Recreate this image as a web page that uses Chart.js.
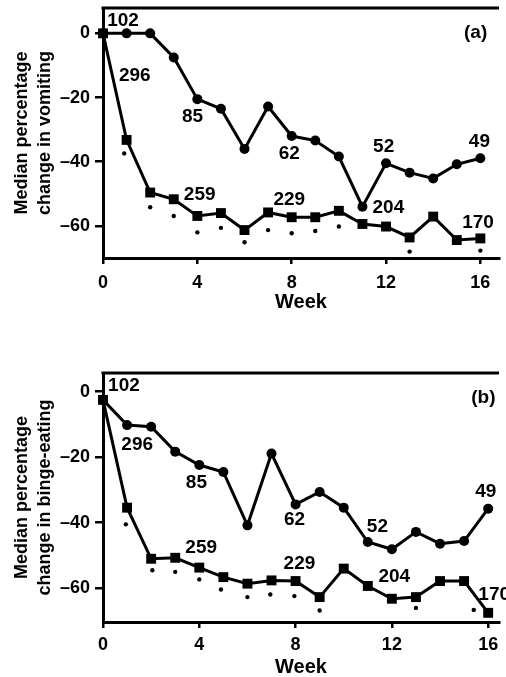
<!DOCTYPE html>
<html>
<head>
<meta charset="utf-8">
<script src="https://cdn.jsdelivr.net/npm/chart.js@4.4.1/dist/chart.umd.min.js"></script>
<style>
  html, body { margin: 0; padding: 0; background: #fff; overflow: hidden; }
  canvas { position: absolute; left: 0; }
  #panelA { top: 0; }
  #panelB { top: 320px; }
</style>
</head>
<body>
<canvas id="panelA" width="506" height="320"></canvas>
<canvas id="panelB" width="506" height="357"></canvas>
<script>
const weeks = [0, 1, 2, 3, 4, 5, 6, 7, 8, 9, 10, 11, 12, 13, 14, 15, 16];
const weekTicks = [0, 4, 8, 12, 16];
const yTicks = [-60, -40, -20, 0];

// (a) vomiting
const vomitRound = [0, 0, 0, -7.5, -20.5, -23.5, -36, -22.8, -32, -33.4, -38.4, -54, -40.5, -43.4, -45.2, -40.8, -38.9];
const vomitSquare = [0, -33.2, -49.6, -51.7, -56.9, -56, -61.3, -55.8, -57.3, -57.3, -55.3, -59.4, -60.2, -63.6, -57.1, -64.4, -63.9];
const vomitDotWeeks = [0.9, 2, 3, 4, 5, 6, 7, 8, 9, 10, 13, 16];
const vomitDotValues = [-37.4, -54.2, -56.9, -62, -60.6, -65.1, -61.3, -62.3, -61.6, -60.2, -68, -67.7];
const vomitNotes = ['102', '296', '85', '62', '52', '49', '259', '229', '204', '170', '(a)'];
const vomitNoteX = [0.85, 1.35, 3.8, 7.9, 11.9, 15.96, 4.1, 7.9, 12.1, 15.9, 15.8];
const vomitNoteY = [3.8, -13.3, -26.1, -37.6, -35.4, -33.9, -50.4, -51.9, -54.4, -59.1, 0.1];

// (b) binge-eating
const bingeRound = [-2.5, -10.2, -10.7, -18.3, -22.4, -24.5, -40.8, -18.9, -34.4, -30.6, -35.4, -45.9, -48.1, -42.8, -46.4, -45.6, -35.7];
const bingeSquare = [-2.5, -35.4, -51, -50.7, -53.7, -56.6, -58.6, -57.6, -57.8, -62.7, -54, -59.3, -63.2, -62.7, -57.8, -57.8, -67.5];
const bingeDotWeeks = [0.95, 2.05, 3, 4, 4.9, 6, 6.95, 7.95, 9, 13, 15.4];
const bingeDotValues = [-40.5, -54.5, -55, -57.3, -60.4, -62.7, -61.9, -62.4, -66.8, -66, -66.6];
const bingeNotes = ['102', '296', '85', '62', '52', '49', '259', '229', '204', '170', '(b)'];
const bingeNoteX = [0.87, 1.42, 3.88, 7.96, 11.4, 15.9, 4.08, 8.16, 12.1, 16.25, 15.8];
const bingeNoteY = [1.7, -16.3, -27.9, -39.2, -41.3, -30.6, -47.7, -52.6, -56.6, -62, -1.9];

const FONT = '"Liberation Sans", Arial, Helvetica, sans-serif';

function pts(xs, ys) {
  return xs.map((x, i) => ({ x: x, y: ys[i] }));
}

// top frame line + the n / panel labels
const notesPlugin = {
  id: 'notes',
  afterDatasetsDraw(chart, args, opts) {
    const c = chart.ctx, a = chart.chartArea;
    const xs = chart.scales.x, ys = chart.scales.y;
    c.save();
    c.strokeStyle = '#000';
    c.lineWidth = 3;
    c.beginPath();
    c.moveTo(a.left - 1.5, a.top);
    c.lineTo(a.right, a.top);
    c.stroke();
    c.fillStyle = '#000';
    c.font = 'bold 19px ' + FONT;
    c.textAlign = 'center';
    c.textBaseline = 'middle';
    opts.text.forEach((t, i) => {
      c.fillText(t, xs.getPixelForValue(opts.x[i]), ys.getPixelForValue(opts.y[i]));
    });
    c.restore();
  }
};

function panel(id, p) {
  return new Chart(document.getElementById(id), {
    type: 'scatter',
    data: {
      datasets: [
        { data: pts(weeks, p.round), showLine: true, borderColor: '#000', backgroundColor: '#000',
          borderWidth: 3, pointStyle: 'circle', pointRadius: 5, pointBorderWidth: 0, clip: false },
        { data: pts(weeks, p.square), showLine: true, borderColor: '#000', backgroundColor: '#000',
          borderWidth: 3, pointStyle: 'rect', pointRadius: 7, pointBorderWidth: 0, clip: false },
        { data: pts(p.dotX, p.dotY), showLine: false, backgroundColor: '#000', borderWidth: 0,
          pointRadius: 2.2, clip: false }
      ]
    },
    options: {
      responsive: false,
      animation: false,
      devicePixelRatio: 1,
      layout: { padding: { top: p.padTop, left: 0, right: 0, bottom: 0 } },
      plugins: {
        legend: { display: false },
        tooltip: { enabled: false },
        notes: { text: p.notes, x: p.noteX, y: p.noteY }
      },
      scales: {
        x: {
          type: 'linear', min: 0, max: p.xMax,
          afterBuildTicks: s => { s.ticks = weekTicks.map(v => ({ value: v })); },
          afterFit: s => { s.height = p.xAxisH; s.paddingLeft = 0; s.paddingRight = 0; },
          grid: { drawOnChartArea: false, tickLength: 6, lineWidth: 2.5, color: '#000' },
          border: { display: true, width: 3, color: '#000' },
          ticks: { color: '#000', font: { family: FONT, size: 18, weight: 'bold' }, padding: p.tickPad,
                   maxRotation: 0, autoSkip: false },
          title: { display: true, text: 'Week', color: '#000',
                   font: { family: FONT, size: 20, weight: 'bold', lineHeight: 1 },
                   padding: { top: 0, bottom: p.titlePad } }
        },
        y: {
          type: 'linear', min: p.yMin, max: p.yMax,
          afterBuildTicks: s => { s.ticks = yTicks.map(v => ({ value: v })); },
          afterFit: s => { s.width = 103; s.paddingTop = 0; s.paddingBottom = 0; },
          grid: { drawOnChartArea: false, tickLength: 8, lineWidth: 2.5, color: '#000' },
          border: { display: true, width: 3, color: '#000' },
          ticks: { color: '#000', font: { family: FONT, size: 18, weight: 'bold' }, padding: 5,
                   callback: v => (v < 0 ? '\u2013' + Math.abs(v) : String(v)) },
          title: { display: true, text: p.yTitle, color: '#000',
                   font: { family: FONT, size: 18, weight: 'bold', lineHeight: 1.3 },
                   padding: { top: 10, bottom: 0 } }
        }
      }
    },
    plugins: [notesPlugin]
  });
}

panel('panelA', {
  round: vomitRound, square: vomitSquare, dotX: vomitDotWeeks, dotY: vomitDotValues,
  notes: vomitNotes, noteX: vomitNoteX, noteY: vomitNoteY,
  yTitle: ['Median percentage', 'change in vomiting'],
  yMin: -70, yMax: 7.9, xMax: 16.79, padTop: 8, xAxisH: 62, tickPad: 8, titlePad: 8
});

panel('panelB', {
  round: bingeRound, square: bingeSquare, dotX: bingeDotWeeks, dotY: bingeDotValues,
  notes: bingeNotes, noteX: bingeNoteX, noteY: bingeNoteY,
  yTitle: ['Median percentage', 'change in binge-eating'],
  yMin: -70.3, yMax: 5.7, xMax: 16.45, padTop: 53, xAxisH: 55, tickPad: 6, titlePad: 0
});
</script>
</body>
</html>
